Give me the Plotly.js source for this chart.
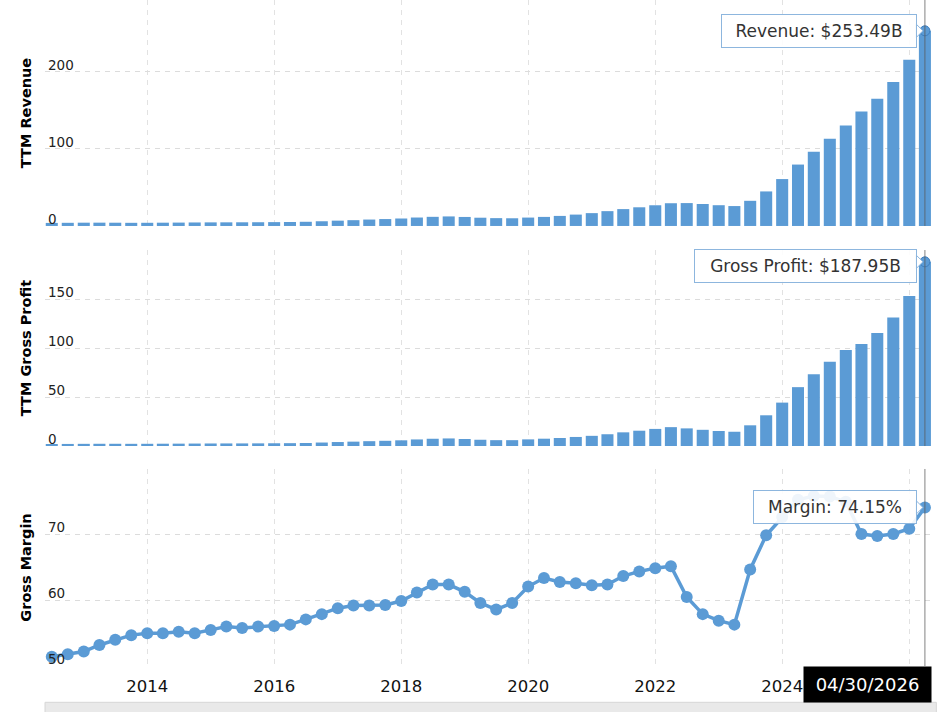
<!DOCTYPE html>
<html>
<head>
<meta charset="utf-8">
<script src="https://cdn.plot.ly/plotly-3.0.1.min.js"></script>
<style>
  html, body { margin: 0; padding: 0; background: #ffffff; }
  #chart { width: 949px; height: 712px; }
</style>
</head>
<body>
<div id="chart"></div>
<script>
// Quarter positions (fiscal quarter months)
const quarters = [
  '2012-07','2012-10',
  '2013-01','2013-04','2013-07','2013-10',
  '2014-01','2014-04','2014-07','2014-10',
  '2015-01','2015-04','2015-07','2015-10',
  '2016-01','2016-04','2016-07','2016-10',
  '2017-01','2017-04','2017-07','2017-10',
  '2018-01','2018-04','2018-07','2018-10',
  '2019-01','2019-04','2019-07','2019-10',
  '2020-01','2020-04','2020-07','2020-10',
  '2021-01','2021-04','2021-07','2021-10',
  '2022-01','2022-04','2022-07','2022-10',
  '2023-01','2023-04','2023-07','2023-10',
  '2024-01','2024-04','2024-07','2024-10',
  '2025-01','2025-04','2025-07','2025-10',
  '2026-01','2026-04'
];

// TTM Revenue ($B)
const revenue = [
  3.98, 4.11, 4.28, 4.30, 4.24, 4.09, 4.13, 4.27, 4.39, 4.57,
  4.68, 4.73, 4.78, 4.86, 5.01, 5.17, 5.45, 6.14, 6.91, 7.54,
  8.34, 8.98, 9.71, 10.98, 11.87, 12.41, 11.72, 10.73, 10.19, 10.02,
  10.92, 11.78, 13.07, 14.78, 16.68, 19.27, 21.91, 24.27, 26.91, 29.54,
  29.73, 28.56, 26.97, 25.87, 32.68, 44.87, 60.92, 79.77, 96.31, 113.27,
  130.50, 148.52, 165.22, 187.14, 215.90, 253.49
];

// TTM Gross Profit ($B)
const grossProfit = [
  2.05, 2.13, 2.23, 2.29, 2.29, 2.24, 2.27, 2.35, 2.42, 2.51,
  2.60, 2.65, 2.67, 2.72, 2.81, 2.91, 3.11, 3.56, 4.06, 4.46,
  4.94, 5.33, 5.82, 6.72, 7.41, 7.74, 7.18, 6.40, 5.97, 5.97,
  6.78, 7.47, 8.21, 9.25, 10.39, 12.02, 13.96, 15.63, 17.46, 19.26,
  17.99, 16.54, 15.35, 14.56, 21.14, 31.36, 44.29, 60.07, 73.20, 85.97,
  97.88, 104.11, 115.32, 131.19, 153.07, 187.95
];

// Gross Margin (%)
const grossMargin = [
  51.4, 51.8, 52.2, 53.2, 54.0, 54.7, 55.0, 55.0, 55.2, 55.0,
  55.5, 56.0, 55.8, 56.0, 56.1, 56.3, 57.1, 57.9, 58.8, 59.2,
  59.2, 59.3, 59.9, 61.2, 62.4, 62.4, 61.3, 59.6, 58.6, 59.6,
  62.1, 63.4, 62.8, 62.6, 62.3, 62.4, 63.7, 64.4, 64.9, 65.2,
  60.5, 57.9, 56.9, 56.3, 64.7, 69.9, 72.7, 75.3, 75.9, 75.8,
  75.0, 70.1, 69.8, 70.1, 70.9, 74.15
];

const lastPeriodLabel = '04/30/2026';

// x-axis ticks (every two years; the 2026 label sits under the date box)
const yearTickVals = ['2014-01-01','2016-01-01','2018-01-01','2020-01-01','2022-01-01','2024-01-01','2026-01-01'];
const yearTickText = ['2014','2016','2018','2020','2022','2024',''];

const revTicks = [0, 100, 200];
const revTickText = ['0', '100', '200'];
const gpTicks = [0, 50, 100, 150, 200];
const gpTickText = ['0', '50', '100', '150', ''];
const gmTicks = [50, 60, 70, 80];
const gmTickText = ['50', '60', '70', ''];

const BLUE = '#5b9bd5';
const GRID = '#dcdcdc';
const FONT = 'DejaVu Sans, Verdana, sans-serif';
const last = quarters.length - 1;
const lastX = quarters[last];

const traces = [
  { type: 'bar', x: quarters, y: revenue, xaxis: 'x', yaxis: 'y',
    marker: { color: BLUE }, hoverinfo: 'skip' },
  { type: 'bar', x: quarters, y: grossProfit, xaxis: 'x', yaxis: 'y2',
    marker: { color: BLUE }, hoverinfo: 'skip' },
  { type: 'scatter', mode: 'lines+markers', x: quarters, y: grossMargin,
    xaxis: 'x', yaxis: 'y3', cliponaxis: false,
    line: { color: BLUE, width: 3.5 },
    marker: { color: BLUE, size: 12 }, hoverinfo: 'skip' },
  { type: 'scatter', mode: 'markers', x: [lastX], y: [revenue[last]],
    xaxis: 'x', yaxis: 'y', cliponaxis: false,
    marker: { color: BLUE, size: 10, line: { color: '#3f7fbf', width: 1 } }, hoverinfo: 'skip' },
  { type: 'scatter', mode: 'markers', x: [lastX], y: [grossProfit[last]],
    xaxis: 'x', yaxis: 'y2', cliponaxis: false,
    marker: { color: BLUE, size: 10, line: { color: '#3f7fbf', width: 1 } }, hoverinfo: 'skip' }
];

function yAxis(domain, range, tickvals, ticktext, title) {
  return {
    domain: domain, range: range, fixedrange: true,
    tickmode: 'array', tickvals: tickvals, ticktext: ticktext,
    ticklabelposition: 'inside', ticklabelshift: -7, ticklabeloverflow: 'allow', ticks: '',
    tickfont: { family: FONT, size: 13.5, color: '#222' },
    showgrid: true, gridcolor: GRID, griddash: '5px,5px', gridwidth: 1,
    zeroline: false, showline: false, automargin: false,
    title: { text: title, standoff: 12,
             font: { family: FONT, size: 14.5, color: '#000', weight: 'bold' } }
  };
}

const tipFont = { family: FONT, size: 17, color: '#333' };
const tipBorder = '#8db6de';

function tip(text, yref, yval, width, yshift) {
  return {
    xref: 'x', yref: yref, x: lastX, y: yval,
    xanchor: 'right', yanchor: 'middle', xshift: -8, yshift: yshift || 0,
    text: text, showarrow: false, font: tipFont,
    bgcolor: 'rgba(255,255,255,0.9)', bordercolor: tipBorder, borderwidth: 1,
    borderpad: 5, width: width, height: 22, align: 'center'
  };
}

function notch(yref, yval, dy) {
  return {
    type: 'path', xref: 'x', yref: yref, xsizemode: 'pixel', ysizemode: 'pixel',
    xanchor: lastX, yanchor: yval,
    path: 'M -9,' + (dy - 7) + ' L -2,' + dy + ' L -9,' + (dy + 7) + ' Z',
    fillcolor: '#ffffff', line: { color: tipBorder, width: 1 }, layer: 'above'
  };
}

function cross(yref) {
  return {
    type: 'line', xref: 'x', yref: yref, x0: lastX, x1: lastX, y0: 0, y1: 1,
    line: { color: 'rgba(90,90,90,0.75)', width: 1 }, layer: 'above'
  };
}

const layout = {
  width: 949, height: 712,
  margin: { l: 45, r: 18, t: 0, b: 46, pad: 0 },
  paper_bgcolor: '#ffffff', plot_bgcolor: '#ffffff',
  showlegend: false, bargap: 0.23,
  font: { family: FONT },
  xaxis: {
    type: 'date', anchor: 'y3', range: ['2012-05-23', '2026-05-06'], fixedrange: true,
    tickmode: 'array', tickvals: yearTickVals, ticktext: yearTickText, ticks: '',
    ticklabelstandoff: 8,
    tickfont: { family: FONT, size: 16.5, color: '#111' },
    showgrid: true, gridcolor: '#e2e2e2', griddash: '5px,5px', gridwidth: 1,
    zeroline: false, showline: false, automargin: false
  },
  yaxis: yAxis([0.6607, 1], [0, 293.5], revTicks, revTickText, 'TTM Revenue'),
  yaxis2: yAxis([0.3303, 0.6246], [0, 200], gpTicks, gpTickText, 'TTM Gross Profit'),
  yaxis3: yAxis([0, 0.2958], [50, 80], gmTicks, gmTickText, 'Gross Margin'),
  shapes: [
    cross('y domain'), cross('y2 domain'), cross('y3 domain'),
    notch('y', revenue[last], 0),
    notch('y2', grossProfit[last], 0),
    notch('y3', grossMargin[last], 0),
    { type: 'rect', xref: 'paper', yref: 'paper', x0: 0, x1: 1.006, y0: -0.0545, y1: -0.0700,
      fillcolor: '#e9e9e9', line: { color: '#d6d6d6', width: 1 }, layer: 'below' }
  ],
  annotations: [
    tip('Revenue: $' + revenue[last].toFixed(2) + 'B', 'y', revenue[last], 184, 0),
    tip('Gross Profit: $' + grossProfit[last].toFixed(2) + 'B', 'y2', grossProfit[last], 211, -4),
    tip('Margin: ' + grossMargin[last].toFixed(2) + '%', 'y3', grossMargin[last], 152, 0),
    { xref: 'x', yref: 'paper', x: lastX, y: 0, xanchor: 'right', yanchor: 'top',
      xshift: 7, yshift: 0, text: lastPeriodLabel, showarrow: false,
      font: { family: FONT, size: 18, color: '#ffffff' },
      bgcolor: '#000000', borderpad: 5, width: 117, height: 25, align: 'center' }
  ]
};

Plotly.newPlot('chart', traces, layout, { displayModeBar: false, staticPlot: true });
</script>
</body>
</html>
